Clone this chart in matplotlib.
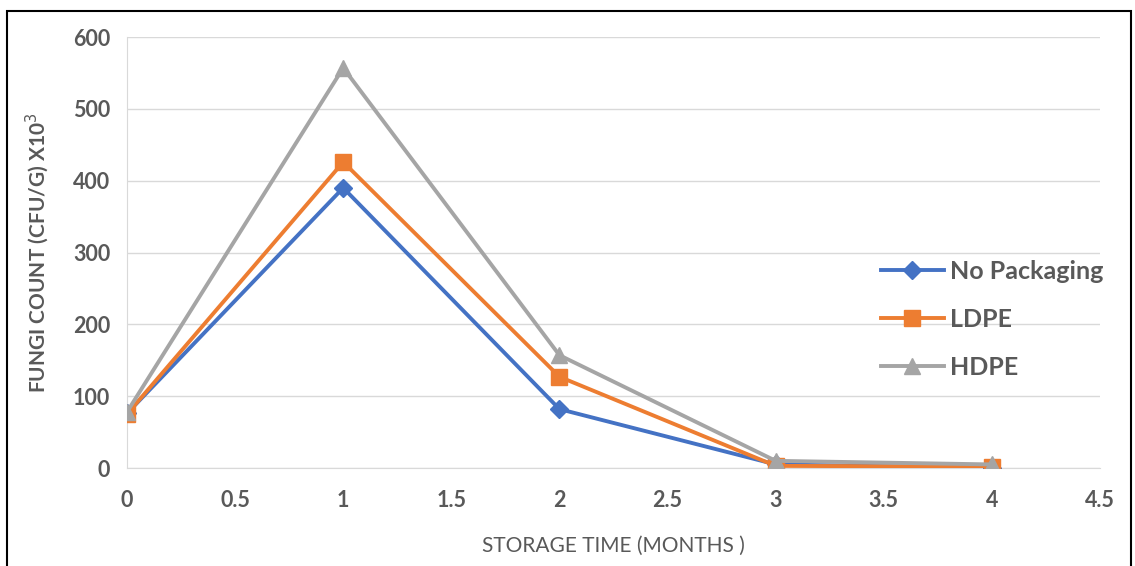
import matplotlib.pyplot as plt
from matplotlib.patches import Rectangle

months = [0, 1, 2, 3, 4]
no_packaging = [76, 390, 82, 5, 0]
ldpe = [75, 426, 127, 3, 2]
hdpe = [78, 557, 157, 10, 5]
xticks = [0, 0.5, 1, 1.5, 2, 2.5, 3, 3.5, 4, 4.5]
xtick_labels = ['0', '0.5', '1', '1.5', '2', '2.5', '3', '3.5', '4', '4.5']

plt.rcParams['font.family'] = ['Lato', 'DejaVu Sans']
grey = '#595959'

fig = plt.figure(figsize=(11.35, 5.66), dpi=100)
ax = fig.add_axes([0.1119, 0.1731, 0.8573, 0.7615])

ax.plot(months, no_packaging, color='#4472C4', lw=2.8, marker='D', ms=9, label='No Packaging', zorder=3)
ax.plot(months, ldpe, color='#ED7D31', lw=2.8, marker='s', ms=12, label='LDPE', zorder=4)
ax.plot(months, hdpe, color='#A5A5A5', lw=2.8, marker='^', ms=11, label='HDPE', zorder=5)

ax.set_xlim(0, 4.5)
ax.set_ylim(0, 600)
ax.set_xticks(xticks)
ax.set_xticklabels(xtick_labels, fontweight='bold', fontsize=15.5)
ax.set_yticks(range(0, 601, 100))
ax.set_yticklabels([str(v) for v in range(0, 601, 100)], fontweight='bold', fontsize=15.5)
ax.grid(True, axis='y', color='#D9D9D9', lw=1)
ax.set_axisbelow(True)
for s in ax.spines.values():
    s.set_visible(False)
ax.spines['left'].set_visible(True)
ax.spines['left'].set_color('#D9D9D9')
ax.spines['bottom'].set_visible(True)
ax.spines['bottom'].set_color('#D9D9D9')
ax.tick_params(length=0, labelcolor=grey)
ax.tick_params(axis='x', pad=16)
ax.tick_params(axis='y', pad=12)

ax.set_xlabel('STORAGE TIME (MONTHS )', fontsize=15, color=grey, labelpad=18)
ax.set_ylabel('FUNGI COUNT (CFU/G) X10$^3$', fontsize=15, color=grey, labelpad=16,
              fontweight='bold')

ax.legend(loc='center left', bbox_to_anchor=(0.752, 0.345), frameon=False,
          labelcolor=grey, handlelength=2.5, labelspacing=1.0, handletextpad=0.25,
          prop={'weight': 'bold', 'size': 18})

fig.patches.append(Rectangle((7 / 1135, -0.1), 1124 / 1135, 1.1 - 11 / 566, transform=fig.transFigure,
                             fill=False, ec='black', lw=1.5))

fig.savefig('out.png', dpi=100)
